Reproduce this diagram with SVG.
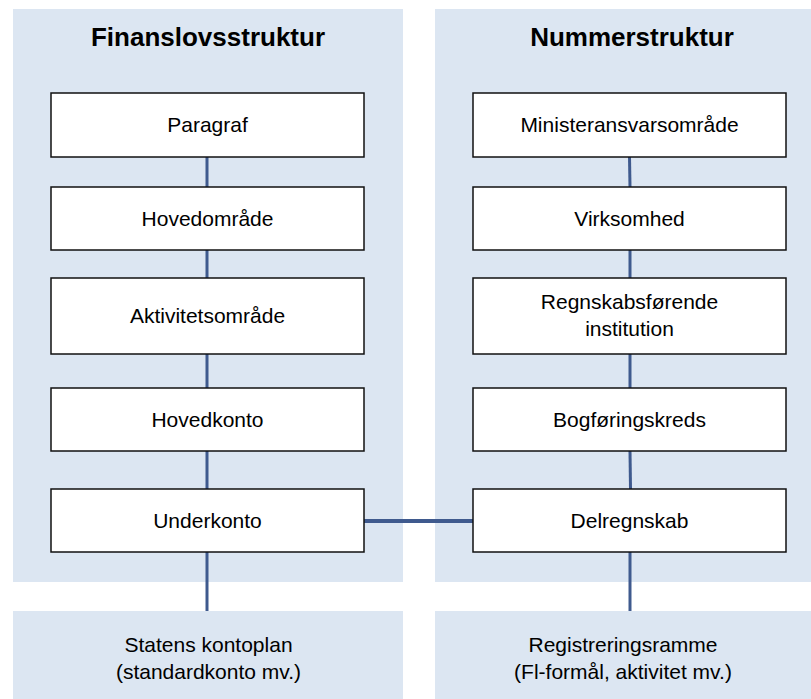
<svg xmlns="http://www.w3.org/2000/svg" width="811" height="699" viewBox="0 0 811 699">
<style>
.panel{fill:#dce6f2}
.box{fill:#ffffff;stroke:#111111;stroke-width:1.5}
.shadow{fill:#8a8a8a;opacity:0.6}
.title{font-family:"Liberation Sans",Arial,sans-serif;font-size:26px;font-weight:bold;fill:#000;text-anchor:middle}
.lbl{font-family:"Liberation Sans",Arial,sans-serif;font-size:21px;fill:#000;text-anchor:middle}
.conn{stroke:#3f5a8e;stroke-width:3;fill:none}
</style>
<rect width="811" height="699" fill="#ffffff"/>
<g id="panel-finanslov">
<rect class="panel" x="13" y="9" width="390" height="573"/>
<text class="title" x="208" y="46">Finanslovsstruktur</text>
</g>
<g id="panel-nummer">
<rect class="panel" x="435" y="9" width="376" height="573"/>
<text class="title" x="632" y="46">Nummerstruktur</text>
</g>
<g id="connectors">
<line class="conn" x1="207" y1="157" x2="207" y2="187"/>
<line class="conn" x1="207" y1="250" x2="207" y2="278"/>
<line class="conn" x1="207" y1="354" x2="207" y2="388"/>
<line class="conn" x1="207" y1="451" x2="207" y2="489"/>
<line class="conn" x1="207" y1="552" x2="207" y2="611"/>
<line class="conn" x1="629.5" y1="157" x2="630" y2="187"/>
<line class="conn" x1="630" y1="250" x2="630" y2="278"/>
<line class="conn" x1="630" y1="354" x2="630" y2="388"/>
<line class="conn" x1="630" y1="451" x2="630.5" y2="489"/>
<line class="conn" x1="630" y1="552" x2="630" y2="611"/>
<line class="conn" style="stroke-width:4" x1="364" y1="521" x2="473" y2="521"/>
</g>
<g id="paragraf">
<rect class="box" x="51" y="93" width="313" height="64"/>
<text class="lbl" x="207.5" y="132">Paragraf</text>
</g>
<g id="hovedomraade">
<rect class="box" x="51" y="187" width="313" height="63"/>
<text class="lbl" x="207.5" y="226">Hovedområde</text>
</g>
<g id="aktivitetsomraade">
<rect class="box" x="51" y="278" width="313" height="76"/>
<text class="lbl" x="207.5" y="323">Aktivitetsområde</text>
</g>
<g id="hovedkonto">
<rect class="box" x="51" y="388" width="313" height="63"/>
<text class="lbl" x="207.5" y="427">Hovedkonto</text>
</g>
<g id="underkonto">
<rect class="box" x="51" y="489" width="313" height="63"/>
<text class="lbl" x="207.5" y="528">Underkonto</text>
</g>
<g id="ministeransvarsomraade">
<rect class="box" x="473" y="93" width="313" height="64"/>
<text class="lbl" x="629.5" y="132">Ministeransvarsområde</text>
</g>
<g id="virksomhed">
<rect class="box" x="473" y="187" width="313" height="63"/>
<text class="lbl" x="629.5" y="226">Virksomhed</text>
</g>
<g id="regnskabsfoerende">
<rect class="box" x="473" y="278" width="313" height="76"/>
<text class="lbl" x="629.5" y="309">Regnskabsførende</text>
<text class="lbl" x="629.5" y="336">institution</text>
</g>
<g id="bogfoeringskreds">
<rect class="box" x="473" y="388" width="313" height="63"/>
<text class="lbl" x="629.5" y="427">Bogføringskreds</text>
</g>
<g id="delregnskab">
<rect class="box" x="473" y="489" width="313" height="63"/>
<text class="lbl" x="629.5" y="528">Delregnskab</text>
</g>
<g id="statens-kontoplan">
<rect class="panel" x="13" y="611" width="390" height="88"/>
<text class="lbl" x="208.5" y="652">Statens kontoplan</text>
<text class="lbl" x="208.5" y="679">(standardkonto mv.)</text>
</g>
<g id="registreringsramme">
<rect class="panel" x="435" y="611" width="376" height="88"/>
<text class="lbl" x="623" y="652">Registreringsramme</text>
<text class="lbl" x="623" y="679">(Fl-formål, aktivitet mv.)</text>
</g>
</svg>
